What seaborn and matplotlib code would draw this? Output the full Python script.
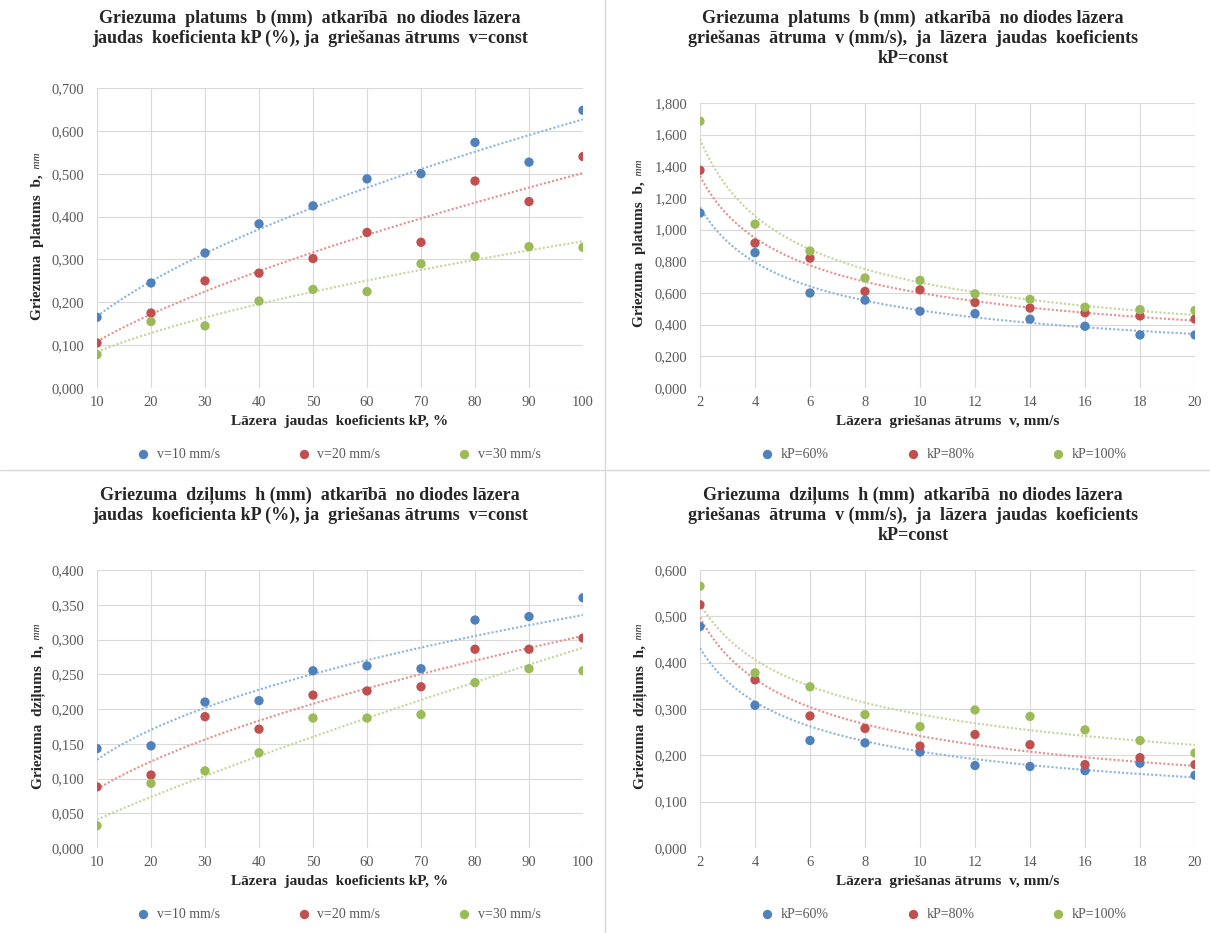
import numpy as np
import pandas as pd
import matplotlib
matplotlib.use("Agg")
import matplotlib.pyplot as plt
from matplotlib.ticker import FuncFormatter, MultipleLocator
import seaborn as sns

sns.set_theme(style="white")
plt.rcParams["font.family"] = ["Liberation Serif", "DejaVu Serif"]

kp = [10, 20, 30, 40, 50, 60, 70, 80, 90, 100]
speed = [2, 4, 6, 8, 10, 12, 14, 16, 18, 20]

# platums b vs kP
b_v10 = [0.165, 0.245, 0.315, 0.383, 0.425, 0.488, 0.500, 0.573, 0.527, 0.648]
b_v20 = [0.105, 0.175, 0.250, 0.268, 0.302, 0.363, 0.340, 0.483, 0.435, 0.540]
b_v30 = [0.078, 0.155, 0.145, 0.203, 0.230, 0.225, 0.290, 0.307, 0.330, 0.328]

# platums b vs v
b_kp60 = [1.105, 0.855, 0.600, 0.555, 0.485, 0.470, 0.435, 0.390, 0.335, 0.335]
b_kp80 = [1.375, 0.915, 0.820, 0.610, 0.620, 0.540, 0.505, 0.475, 0.455, 0.435]
b_kp100 = [1.685, 1.035, 0.865, 0.695, 0.680, 0.595, 0.560, 0.510, 0.495, 0.490]

# dzilums h vs kP
h_v10 = [0.143, 0.147, 0.210, 0.212, 0.255, 0.262, 0.258, 0.328, 0.333, 0.360]
h_v20 = [0.088, 0.105, 0.189, 0.171, 0.220, 0.226, 0.232, 0.286, 0.286, 0.302]
h_v30 = [0.032, 0.093, 0.111, 0.137, 0.187, 0.187, 0.192, 0.238, 0.258, 0.255]

# dzilums h vs v
h_kp60 = [0.478, 0.308, 0.232, 0.227, 0.207, 0.178, 0.176, 0.167, 0.183, 0.157]
h_kp80 = [0.525, 0.363, 0.285, 0.258, 0.220, 0.245, 0.223, 0.180, 0.195, 0.180]
h_kp100 = [0.565, 0.378, 0.348, 0.288, 0.262, 0.298, 0.284, 0.255, 0.232, 0.205]

v_labels = ["v=10 mm/s", "v=20 mm/s", "v=30 mm/s"]
kp_labels = ["kP=60%", "kP=80%", "kP=100%"]
colors = ["#4F81BD", "#C0504D", "#9BBB59"]
trend_colors = ["#8db3e2", "#e6908d", "#c3d69b"]

W, H = 1210, 933
fig = plt.figure(figsize=(W / 100, H / 100), dpi=100)


def box(l, r, t, b):
    return [l / W, 1 - b / H, (r - l) / W, (b - t) / H]


def comma(v, _pos):
    return f"{v:.3f}".replace(".", ",")


def panel(rect, x, series, labels, ylim, ystep, xstep, title, title_y, ylabel, xlabel,
          legend_y, legend_x, title_x):
    ax = fig.add_axes(rect)
    rows = []
    for lab, ys in zip(labels, series):
        for xi, yi in zip(x, ys):
            rows.append({"x": xi, "y": yi, "series": lab})
    df = pd.DataFrame(rows)
    # power trendline, like the Excel one
    xx = np.linspace(min(x), max(x), 200)
    for ys, tc in zip(series, trend_colors):
        k, c = np.polyfit(np.log(x), np.log(ys), 1)
        sns.lineplot(x=xx, y=np.exp(c) * xx ** k, ax=ax, color=tc, lw=1.5,
                     linestyle=(0, (1, 1)), legend=False)
    sns.scatterplot(data=df, x="x", y="y", hue="series", palette=colors,
                    s=45, edgecolor="none", ax=ax, legend=True, zorder=5)
    ax.set_xlim(min(x), max(x))
    ax.set_ylim(*ylim)
    ax.yaxis.set_major_locator(MultipleLocator(ystep))
    ax.xaxis.set_major_locator(MultipleLocator(xstep))
    ax.yaxis.set_major_formatter(FuncFormatter(comma))
    ax.grid(True, color="#d9d9d9", lw=0.8)
    for s in ax.spines.values():
        s.set_visible(False)
    ax.tick_params(axis="both", labelsize=10.5, colors="#595959", length=0)
    ax.tick_params(axis="y", pad=9)
    ax.tick_params(axis="x", pad=6)
    ax.set_xlabel(xlabel, fontsize=11, fontweight="bold", color="#262626", labelpad=4)
    ax.set_ylabel("")
    # y label: bold text followed by a small italic unit
    t = ax.text(-0.122, 0.47, ylabel, rotation=90, transform=ax.transAxes, ha="center",
                va="center", fontsize=11, fontweight="bold", color="#262626")
    ax.annotate("  mm", xy=(0.5, 1), xycoords=t, rotation=90, ha="center", va="bottom",
                fontsize=8, style="italic", color="#262626")
    handles, labs = ax.get_legend_handles_labels()
    ax.get_legend().remove()
    fig.legend(handles, labs, loc="center", bbox_to_anchor=(legend_x / W, 1 - legend_y / H),
               ncol=3, frameon=False, fontsize=10, columnspacing=5.0, handletextpad=0,
               markerscale=1.0, labelcolor="#595959")
    fig.text(title_x / W, 1 - title_y / H, title, ha="center", va="top", fontsize=13,
             fontweight="bold", color="#262626", linespacing=1.2)
    return ax


panel(box(97, 583, 88, 388), kp, [b_v10, b_v20, b_v30], v_labels, (0, 0.7), 0.1, 10,
      "Griezuma  platums  b (mm)  atkarībā  no diodes lāzera\njaudas  koeficienta kP (%), ja  griešanas ātrums  v=const",
      10, "Griezuma  platums  b,", "Lāzera  jaudas  koeficients kP, %", 455, 335, 310)

panel(box(700, 1195, 103, 388), speed, [b_kp60, b_kp80, b_kp100], kp_labels, (0, 1.8), 0.2, 2,
      "Griezuma  platums  b (mm)  atkarībā  no diodes lāzera\ngriešanas  ātruma  v (mm/s),  ja  lāzera  jaudas  koeficients\nkP=const",
      10, "Griezuma  platums  b,", "Lāzera  griešanas ātrums  v, mm/s", 455, 940, 913)

panel(box(97, 583, 570, 848), kp, [h_v10, h_v20, h_v30], v_labels, (0, 0.4), 0.05, 10,
      "Griezuma  dziļums  h (mm)  atkarībā  no diodes lāzera\njaudas  koeficienta kP (%), ja  griešanas ātrums  v=const",
      486, "Griezuma  dziļums  h,", "Lāzera  jaudas  koeficients kP, %", 915, 335, 310)

panel(box(700, 1195, 570, 848), speed, [h_kp60, h_kp80, h_kp100], kp_labels, (0, 0.6), 0.1, 2,
      "Griezuma  dziļums  h (mm)  atkarībā  no diodes lāzera\ngriešanas  ātruma  v (mm/s),  ja  lāzera  jaudas  koeficients\nkP=const",
      486, "Griezuma  dziļums  h,", "Lāzera  griešanas ātrums  v, mm/s", 915, 940, 913)

# separators between the four charts
fig.add_artist(plt.Line2D([605 / W, 605 / W], [0, 1], color="#d9d9d9", lw=1))
fig.add_artist(plt.Line2D([0, 1], [1 - 470 / H, 1 - 470 / H], color="#d9d9d9", lw=1))

fig.savefig("out.png", dpi=100)
